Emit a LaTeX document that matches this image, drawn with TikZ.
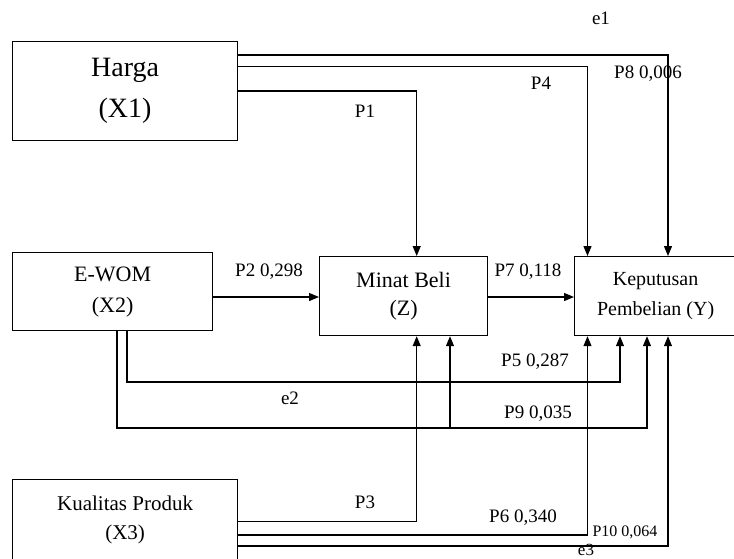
\documentclass[tikz,border=0pt]{standalone}
\usepackage{fontspec}
\setmainfont{Liberation Serif}
\usetikzlibrary{arrows.meta,positioning}

\begin{document}
\begin{tikzpicture}[
  x=1pt, y=-1pt,
  varbox/.style={draw, line width=1.2pt, anchor=north west, align=center, inner sep=0pt},
  lbl/.style={font=\fontsize{19}{19}\selectfont, anchor=base, inner sep=0pt},
  ln/.style={line width=1.2pt},
  arr/.style={-{Triangle[length=10pt,width=8pt]}, line width=1.2pt},
]
  \useasboundingbox (0,0) rectangle (734,558);

  % variables
  \node[varbox, minimum width=225pt, minimum height=99pt,
        font=\fontsize{28}{41}\selectfont] (harga) at (12,41) {Harga\\(X1)};
  \node[varbox, minimum width=200pt, minimum height=78pt,
        font=\fontsize{22}{31}\selectfont] (ewom) at (12,252) {E-WOM\\(X2)};
  \node[varbox, minimum width=168pt, minimum height=79pt,
        font=\fontsize{22}{28.5}\selectfont] (minat) at (319,256) {Minat Beli\\(Z)};
  \node[varbox, minimum width=162pt, minimum height=79pt,
        font=\fontsize{20}{29.5}\selectfont] (kep) at (574,256) {Keputusan\\Pembelian (Y)};
  \node[varbox, minimum width=225pt, minimum height=81pt,
        font=\fontsize{21}{28.5}\selectfont] (kual) at (12,479) {Kualitas Produk\\(X3)};

  % lanes
  \coordinate (c1) at (416.7,91);
  \coordinate (c4) at (587.5,66.7);
  \coordinate (c8) at (668,55);
  \coordinate (c2) at (0,297);
  \coordinate (c5a) at (127,382);
  \coordinate (c5b) at (620,382);
  \coordinate (c9a) at (117,428);
  \coordinate (c9b) at (647,428);
  \coordinate (c9z) at (450,428);
  \coordinate (c3) at (416.7,521.7);
  \coordinate (c6) at (587.5,535);
  \coordinate (c10) at (668,546);

  % arrows from X1 and X3
  \foreach \c/\t in {c1/minat, c4/kep, c8/kep}
    \draw[arr] (harga.east |- \c) -- (\c) -- (\t.north -| \c);
  \foreach \c/\t in {c3/minat, c6/kep, c10/kep}
    \draw[arr] (kual.east |- \c) -- (\c) -- (\t.south -| \c);

  % arrows from X2 and Z
  \draw[arr] (ewom.east |- c2) -- (minat.west |- c2);
  \draw[arr] (minat.east |- c2) -- (kep.west |- c2);
  \draw[arr] (ewom.south -| c5a) -- (c5a) -- (c5b) -- (kep.south -| c5b);
  \draw[arr] (ewom.south -| c9a) -- (c9a) -- (c9b) -- (kep.south -| c9b);
  \draw[arr] (c9z) -- (minat.south -| c9z);

  % path labels
  \node[lbl] (le1) at (601,24) {e1};
  \node[lbl] (lp8) at (648,78) {P8 0,006};
  \node[lbl] (lp4) at (541,89) {P4};
  \node[lbl] (lp1) at (365,117) {P1};
  \node[lbl] (lp2) at (269,276) {P2 0,298};
  \node[lbl] (lp7) at (528,276) {P7 0,118};
  \node[lbl] (lp5) at (535,366.7) {P5 0,287};
  \node[lbl] (le2) at (290,404) {e2};
  \node[lbl] (lp9) at (538,418) {P9 0,035};
  \node[lbl] (lp3) at (365,508) {P3};
  \node[lbl] (lp6) at (523,522.7) {P6 0,340};
  \node[lbl, font=\fontsize{16}{16}\selectfont] (lp10) at (625,536) {P10 0,064};
  \node[lbl, font=\fontsize{17}{17}\selectfont] (le3) at (586,555) {e3};

\end{tikzpicture}
\end{document}
